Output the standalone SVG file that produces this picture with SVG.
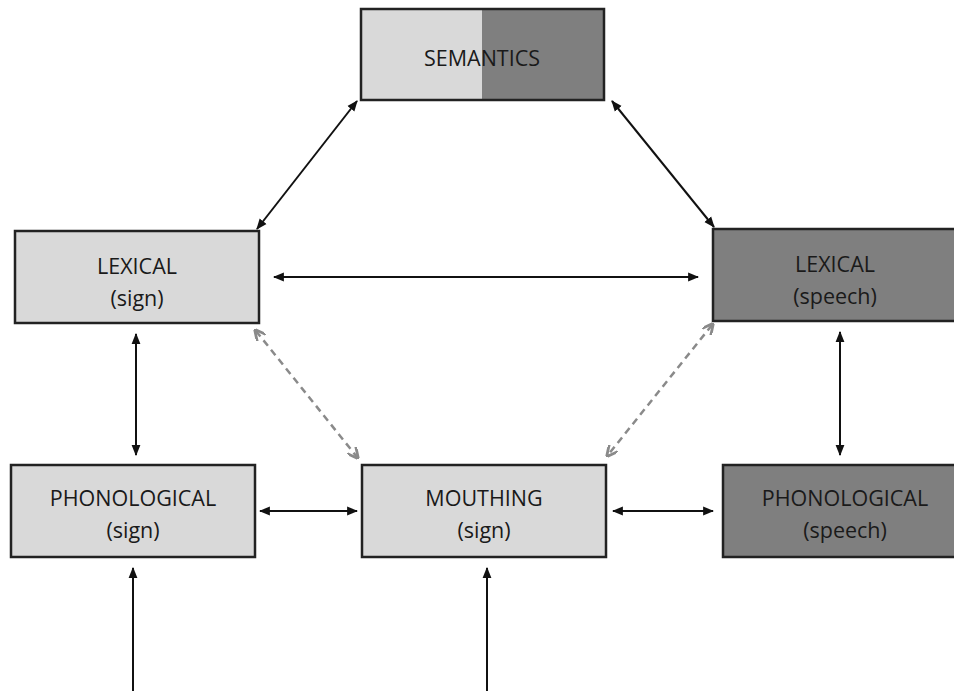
<svg xmlns="http://www.w3.org/2000/svg" width="954" height="691" viewBox="0 0 954 691">
<style>
.box{stroke:#222;stroke-width:2.5}
.lt{fill:#d9d9d9}
.dk{fill:#7f7f7f}
text{font-family:"Open Sans","Liberation Sans",sans-serif;font-size:21.5px;fill:#1a1a1a;text-anchor:middle}
.c{stroke:#111;stroke-width:2;fill:none;marker-start:url(#ah);marker-end:url(#ah)}
.u{stroke:#111;stroke-width:2;fill:none;marker-end:url(#ah)}
.d{stroke:#8a8a8a;stroke-width:2.5;fill:none;stroke-dasharray:7,5;marker-start:url(#ag);marker-end:url(#ag)}
</style>
<defs>
<marker id="ah" viewBox="0 0 10 10" refX="9" refY="5" markerWidth="5.5" markerHeight="5.5" orient="auto-start-reverse"><path d="M0,1 L10,5 L0,9 Z" fill="#111"/></marker>
<marker id="ag" viewBox="0 0 10 10" refX="8" refY="5" markerWidth="4.5" markerHeight="4.5" orient="auto-start-reverse"><path d="M0,0 L10,5 L0,10" fill="none" stroke="#8a8a8a" stroke-width="2.5"/></marker>
</defs>
<rect width="954" height="691" fill="#fff"/>
<g id="connectors">
<line class="c" x1="357" y1="101" x2="257" y2="229"/>
<line class="c" x1="612" y1="101" x2="714" y2="227"/>
<line class="c" x1="274" y1="277" x2="698" y2="277"/>
<line class="c" x1="136" y1="334" x2="136" y2="455"/>
<line class="c" x1="840" y1="332" x2="840" y2="455"/>
<line class="d" x1="256" y1="331" x2="357" y2="457"/>
<line class="d" x1="712" y1="325" x2="608" y2="455"/>
<line class="c" x1="260" y1="511" x2="357" y2="511"/>
<line class="c" x1="613" y1="511" x2="713" y2="511"/>
<line class="u" x1="133" y1="691" x2="133" y2="568"/>
<line class="u" x1="487" y1="691" x2="487" y2="568"/>
</g>
<g id="semantics">
<rect x="361" y="9" width="121" height="91" class="lt"/>
<rect x="482" y="9" width="122" height="91" class="dk"/>
<rect x="361" y="9" width="243" height="91" fill="none" class="box"/>
<text x="482" y="66">SEMANTICS</text>
</g>
<g id="lexical-sign">
<rect x="15" y="231" width="244" height="92" class="box lt"/>
<text x="137" y="274">LEXICAL</text>
<text x="137" y="306">(sign)</text>
</g>
<g id="lexical-speech">
<rect x="713" y="229" width="245" height="92" class="box dk"/>
<text x="835" y="272">LEXICAL</text>
<text x="835" y="304">(speech)</text>
</g>
<g id="phonological-sign">
<rect x="11" y="465" width="244" height="92" class="box lt"/>
<text x="133" y="506">PHONOLOGICAL</text>
<text x="133" y="538">(sign)</text>
</g>
<g id="mouthing-sign">
<rect x="362" y="465" width="244" height="92" class="box lt"/>
<text x="484" y="506">MOUTHING</text>
<text x="484" y="538">(sign)</text>
</g>
<g id="phonological-speech">
<rect x="723" y="465" width="240" height="92" class="box dk"/>
<text x="845" y="506">PHONOLOGICAL</text>
<text x="845" y="538">(speech)</text>
</g>
</svg>
